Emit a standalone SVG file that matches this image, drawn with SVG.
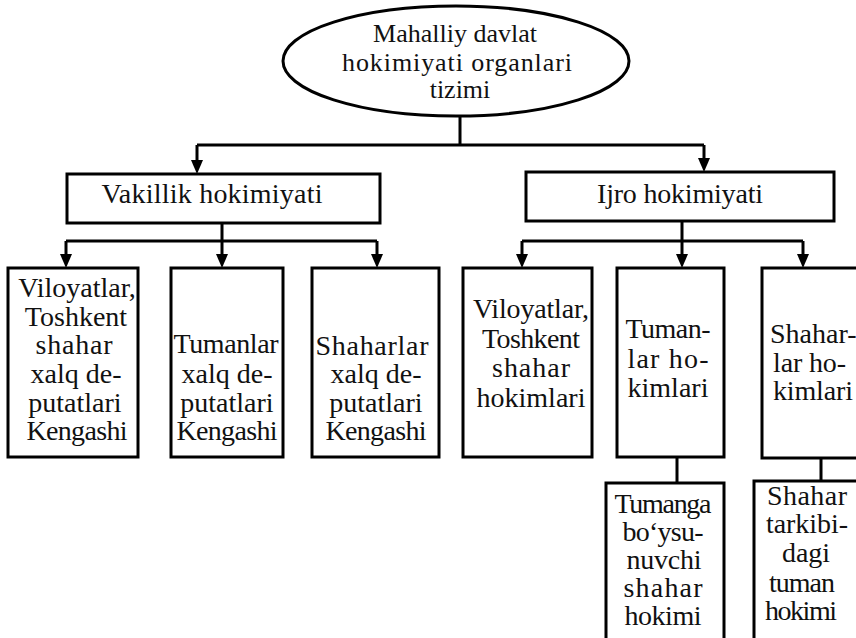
<svg xmlns="http://www.w3.org/2000/svg" width="856" height="638" viewBox="0 0 856 638">
<style>
.n{fill:#fff;stroke:#000;stroke-width:3}
.c{fill:none;stroke:#000;stroke-width:3}
.a{marker-end:url(#ah)}
text{font-family:'Liberation Serif','Times New Roman',serif;font-size:28px;fill:#111;text-anchor:middle}
.e{font-size:26px}
</style>
<defs>
<marker id="ah" markerUnits="userSpaceOnUse" viewBox="0 0 14 12" markerWidth="14" markerHeight="12" refX="5" refY="6" orient="auto">
<path d="M0,0 L14,6 L0,12 Z" fill="#000"/>
</marker>
</defs>
<g id="connectors">
<path class="c" d="M460,117 V145 M197,145 H704"/>
<path class="c a" d="M197,145 V165"/>
<path class="c a" d="M704,145 V163"/>
<path class="c" d="M222,223 V241 M66,241 H377"/>
<path class="c a" d="M66,241 V259"/>
<path class="c a" d="M222,241 V259"/>
<path class="c a" d="M377,241 V259"/>
<path class="c" d="M682,221 V241 M522,241 H803"/>
<path class="c a" d="M522,241 V259"/>
<path class="c a" d="M682,241 V259"/>
<path class="c a" d="M803,241 V259"/>
<path class="c" d="M677,457 V483 M821,458 V481"/>
</g>
<g id="root">
<ellipse class="n" cx="456" cy="61" rx="173" ry="55"/>
<text class="e" x="455" y="42">Mahalliy davlat</text>
<text class="e" x="457" y="71" textLength="230" lengthAdjust="spacing">hokimiyati organlari</text>
<text class="e" x="460" y="98">tizimi</text>
</g>
<g id="vakillik">
<rect class="n" x="67" y="174" width="313" height="49"/>
<text x="212" y="203" textLength="221" lengthAdjust="spacing">Vakillik hokimiyati</text>
</g>
<g id="ijro">
<rect class="n" x="526" y="172" width="308" height="49"/>
<text x="680" y="203" textLength="166" lengthAdjust="spacing">Ijro hokimiyati</text>
</g>
<g id="v1">
<rect class="n" x="8" y="268" width="130" height="189"/>
<text x="77" y="297">Viloyatlar,</text>
<text x="76" y="326">Toshkent</text>
<text x="74" y="354" textLength="77" lengthAdjust="spacing">shahar</text>
<text x="76" y="383">xalq de-</text>
<text x="75" y="412">putatlari</text>
<text x="77" y="440" textLength="101" lengthAdjust="spacing">Kengashi</text>
</g>
<g id="v2">
<rect class="n" x="171" y="268" width="112" height="189"/>
<text x="226" y="353" textLength="105" lengthAdjust="spacing">Tumanlar</text>
<text x="227" y="383">xalq de-</text>
<text x="227" y="412">putatlari</text>
<text x="227" y="440" textLength="101" lengthAdjust="spacing">Kengashi</text>
</g>
<g id="v3">
<rect class="n" x="312" y="268" width="127" height="189"/>
<text x="372" y="355" textLength="113" lengthAdjust="spacing">Shaharlar</text>
<text x="376" y="383">xalq de-</text>
<text x="376" y="412">putatlari</text>
<text x="376" y="440" textLength="101" lengthAdjust="spacing">Kengashi</text>
</g>
<g id="i1">
<rect class="n" x="463" y="268" width="129" height="189"/>
<text x="531" y="318" textLength="116" lengthAdjust="spacing">Viloyatlar,</text>
<text x="531" y="348" textLength="98" lengthAdjust="spacing">Toshkent</text>
<text x="531" y="377" textLength="78" lengthAdjust="spacing">shahar</text>
<text x="531" y="407">hokimlari</text>
</g>
<g id="i2">
<rect class="n" x="617" y="268" width="107" height="189"/>
<text x="668" y="338" textLength="85" lengthAdjust="spacing">Tuman-</text>
<text x="668" y="368" textLength="81" lengthAdjust="spacing">lar ho-</text>
<text x="668" y="397">kimlari</text>
</g>
<g id="i3">
<rect class="n" x="762" y="268" width="110" height="190"/>
<text x="770" y="343" style="text-anchor:start">Shahar-</text>
<text x="773" y="372" style="text-anchor:start" textLength="73" lengthAdjust="spacing">lar ho-</text>
<text x="773" y="400" style="text-anchor:start" textLength="80" lengthAdjust="spacing">kimlari</text>
</g>
<g id="s1">
<rect class="n" x="606" y="483" width="118" height="170"/>
<text x="663" y="513" textLength="97" lengthAdjust="spacing">Tumanga</text>
<text x="663" y="541" textLength="81" lengthAdjust="spacing">bo‘ysu-</text>
<text x="664" y="569" textLength="75" lengthAdjust="spacing">nuvchi</text>
<text x="663" y="597" textLength="79" lengthAdjust="spacing">shahar</text>
<text x="663" y="625" textLength="77" lengthAdjust="spacing">hokimi</text>
</g>
<g id="s2">
<rect class="n" x="754" y="481" width="120" height="170"/>
<text x="807" y="505" textLength="80" lengthAdjust="spacing">Shahar</text>
<text x="807" y="533" textLength="82" lengthAdjust="spacing">tarkibi-</text>
<text x="806" y="562">dagi</text>
<text x="802" y="592" textLength="66" lengthAdjust="spacing">tuman</text>
<text x="801" y="620" textLength="72" lengthAdjust="spacing">hokimi</text>
</g>
</svg>
